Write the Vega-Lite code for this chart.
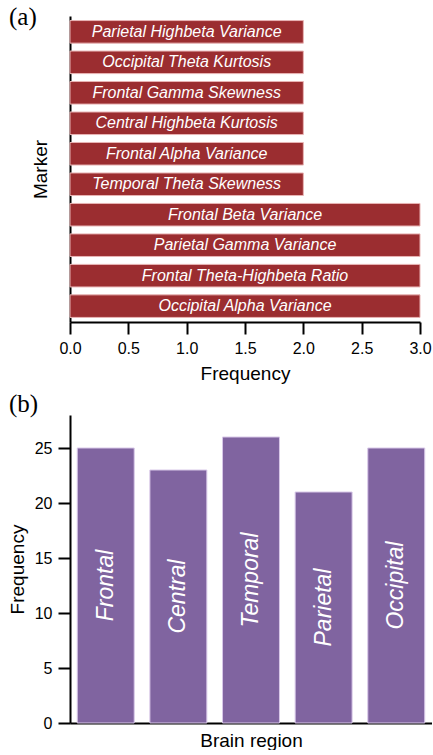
{
  "$schema": "https://vega.github.io/schema/vega-lite/v6.json",
  "padding": {"left": 8, "top": 5, "right": 0, "bottom": 0},
  "bounds": "flush",
  "spacing": 93,
  "config": {
    "view": {"stroke": null},
    "font": "Liberation Sans",
    "axis": {
      "domainColor": "black",
      "domainWidth": 2,
      "tickColor": "black",
      "tickWidth": 2,
      "tickSize": 12,
      "labelFontSize": 16,
      "labelColor": "black",
      "labelPadding": 6,
      "labelFlush": false,
      "titleFontSize": 19,
      "titleFontWeight": "normal",
      "titleColor": "black",
      "grid": false
    }
  },
  "vconcat": [
    {
      "width": 350,
      "height": 306,
      "title": {"text": "(a)", "font": "Liberation Serif", "fontSize": 25, "fontWeight": "normal", "anchor": "start", "frame": "group", "dx": -61, "offset": -14, "color": "black"},
      "data": {
        "values": [
          {"marker": "Parietal Highbeta Variance", "freq": 2},
          {"marker": "Occipital Theta Kurtosis", "freq": 2},
          {"marker": "Frontal Gamma Skewness", "freq": 2},
          {"marker": "Central Highbeta Kurtosis", "freq": 2},
          {"marker": "Frontal Alpha Variance", "freq": 2},
          {"marker": "Temporal Theta Skewness", "freq": 2},
          {"marker": "Frontal Beta Variance", "freq": 3},
          {"marker": "Parietal Gamma Variance", "freq": 3},
          {"marker": "Frontal Theta-Highbeta Ratio", "freq": 3},
          {"marker": "Occipital Alpha Variance", "freq": 3}
        ]
      },
      "encoding": {
        "y": {
          "field": "marker",
          "type": "nominal",
          "sort": null,
          "scale": {"paddingInner": 0.26, "paddingOuter": 0.15},
          "axis": {"title": "Marker", "labels": false, "ticks": false, "titlePadding": 20}
        }
      },
      "layer": [
        {
          "mark": {"type": "bar", "color": "#9b2d30", "stroke": "#e8b4b4", "strokeWidth": 1},
          "encoding": {
            "x": {
              "field": "freq",
              "type": "quantitative",
              "title": "Frequency",
              "scale": {"domain": [0, 3], "nice": false},
              "axis": {"values": [0, 0.5, 1, 1.5, 2, 2.5, 3], "format": ".1f", "titlePadding": 8}
            }
          }
        },
        {
          "transform": [{"calculate": "datum.freq / 2", "as": "mid"}],
          "mark": {"type": "text", "color": "white", "fontStyle": "italic", "fontSize": 16, "align": "center", "baseline": "middle"},
          "encoding": {
            "x": {"field": "mid", "type": "quantitative", "title": "Frequency"},
            "text": {"field": "marker"}
          }
        }
      ]
    },
    {
      "width": 362,
      "height": 308,
      "title": {"text": "(b)", "font": "Liberation Serif", "fontSize": 25, "fontWeight": "normal", "anchor": "start", "frame": "group", "dx": -61, "offset": -2, "color": "black"},
      "data": {
        "values": [
          {"region": "Frontal", "freq": 25},
          {"region": "Central", "freq": 23},
          {"region": "Temporal", "freq": 26},
          {"region": "Parietal", "freq": 21},
          {"region": "Occipital", "freq": 25}
        ]
      },
      "encoding": {
        "x": {
          "field": "region",
          "type": "nominal",
          "sort": null,
          "scale": {"paddingInner": 0.216, "paddingOuter": 0.1},
          "axis": {"title": "Brain region", "labels": false, "ticks": false, "titlePadding": 8}
        }
      },
      "layer": [
        {
          "mark": {"type": "bar", "color": "#8064a0", "stroke": "#d8c8e8", "strokeWidth": 1},
          "encoding": {
            "y": {
              "field": "freq",
              "type": "quantitative",
              "title": "Frequency",
              "scale": {"domain": [0, 28], "nice": false},
              "axis": {"values": [0, 5, 10, 15, 20, 25], "titlePadding": 7}
            }
          }
        },
        {
          "transform": [{"calculate": "datum.freq / 2", "as": "mid"}],
          "mark": {"type": "text", "color": "white", "fontStyle": "italic", "fontSize": 23, "angle": 270, "align": "center", "baseline": "middle"},
          "encoding": {
            "y": {"field": "mid", "type": "quantitative", "title": "Frequency"},
            "text": {"field": "region"}
          }
        }
      ]
    }
  ]
}
